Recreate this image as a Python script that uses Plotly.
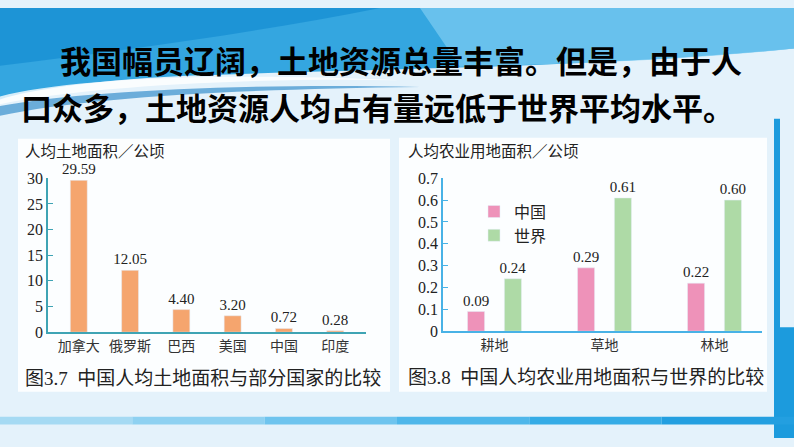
import plotly.graph_objects as go

# ---------------- data ----------------
countries = ["加拿大", "俄罗斯", "巴西", "美国", "中国", "印度"]
land_per_capita = [29.59, 12.05, 4.40, 3.20, 0.72, 0.28]
left_ticks = [0, 5, 10, 15, 20, 25, 30]
left_ticktext = ["0", "5", "10", "15", "20", "25", "30"]

land_types = ["耕地", "草地", "林地"]
china_agri = [0.09, 0.29, 0.22]
world_agri = [0.24, 0.61, 0.60]
right_ticks = [0, 0.1, 0.2, 0.3, 0.4, 0.5, 0.6, 0.7]
right_ticktext = ["0", "0.1", "0.2", "0.3", "0.4", "0.5", "0.6", "0.7"]

title_line1 = "我国幅员辽阔，土地资源总量丰富。但是，由于人"
title_line2 = "口众多，土地资源人均占有量远低于世界平均水平。"
left_ytitle = "人均土地面积／公顷"
right_ytitle = "人均农业用地面积／公顷"
left_caption = "图3.7  中国人均土地面积与部分国家的比较"
right_caption = "图3.8  中国人均农业用地面积与世界的比较"

# ---------------- helpers ----------------
W, H = 794, 447
def px(x):
    return x / W
def py(y):
    return 1 - y / H

SERIF = "Liberation Serif, Noto Sans CJK SC"
CJK = "Noto Sans CJK SC"
ORANGE = "#F5A56E"
PINK = "#EE92B9"
GREEN = "#AEDAA6"
LEFT_AX = "#3FA4B4"
RIGHT_AX = "#48B2E6"
LABEL_FONT = dict(family="Liberation Serif", size=15, color="#222")

fig = go.Figure()

fig.add_trace(go.Bar(
    x=countries, y=land_per_capita, marker_color=ORANGE, width=0.33,
    text=[f"{v:.2f}" for v in land_per_capita], textposition="outside",
    constraintext="none", textfont=LABEL_FONT, cliponaxis=False,
    showlegend=False, xaxis="x", yaxis="y"))

fig.add_trace(go.Bar(
    x=land_types, y=china_agri, name="中国", marker_color=PINK,
    width=0.155, offset=-0.245,
    text=[f"{v:.2f}" for v in china_agri], textposition="outside",
    constraintext="none", textfont=LABEL_FONT, cliponaxis=False,
    xaxis="x2", yaxis="y2"))
fig.add_trace(go.Bar(
    x=land_types, y=world_agri, name="世界", marker_color=GREEN,
    width=0.155, offset=0.09,
    text=[f"{v:.2f}" for v in world_agri], textposition="outside",
    constraintext="none", textfont=LABEL_FONT, cliponaxis=False,
    xaxis="x2", yaxis="y2"))

shapes = []
# top banner
shapes.append(dict(type="path", xref="paper", yref="paper", layer="below",
    path=f"M {px(0)},{py(0)} L {px(794)},{py(0)} L {px(794)},{py(42)} "
         f"C {px(600)},{py(62)} {px(350)},{py(64)} {px(200)},{py(70)} "
         f"C {px(100)},{py(74)} {px(30)},{py(85)} {px(0)},{py(95)} Z",
    fillcolor="#34A6E0", line=dict(width=0)))
shapes.append(dict(type="path", xref="paper", yref="paper", layer="below",
    path=f"M {px(420)},{py(0)} L {px(794)},{py(0)} L {px(794)},{py(42)} "
         f"C {px(680)},{py(55)} {px(540)},{py(59)} {px(460)},{py(61)} Z",
    fillcolor="#7FCDF2", line=dict(width=0), opacity=0.7))
shapes.append(dict(type="path", xref="paper", yref="paper", layer="below",
    path=f"M {px(0)},{py(0)} L {px(380)},{py(0)} "
         f"C {px(260)},{py(25)} {px(120)},{py(45)} {px(0)},{py(60)} Z",
    fillcolor="#1A90D3", line=dict(width=0), opacity=0.85))
# white wave streak
shapes.append(dict(type="path", xref="paper", yref="paper", layer="below",
    path=f"M {px(0)},{py(92)} C {px(60)},{py(75)} {px(200)},{py(66)} {px(400)},{py(75)} "
         f"C {px(250)},{py(72)} {px(80)},{py(82)} {px(0)},{py(100)} Z",
    fillcolor="#FFFFFF", line=dict(width=0), opacity=0.8))
shapes.append(dict(type="path", xref="paper", yref="paper", layer="below",
    path=f"M {px(0)},{py(102)} C {px(80)},{py(86)} {px(250)},{py(78)} {px(420)},{py(82)} "
         f"C {px(250)},{py(84)} {px(90)},{py(92)} {px(0)},{py(112)} Z",
    fillcolor="#1B7FC4", line=dict(width=0), opacity=0.6))
# white panels
shapes.append(dict(type="rect", xref="paper", yref="paper", layer="below",
    x0=px(18), x1=px(390), y0=py(399), y1=py(136),
    fillcolor="#FCFEFF", line=dict(width=0)))
shapes.append(dict(type="rect", xref="paper", yref="paper", layer="below",
    x0=px(399), x1=px(767), y0=py(399), y1=py(135),
    fillcolor="#FCFEFF", line=dict(width=0)))
# right vertical bar
shapes.append(dict(type="rect", xref="paper", yref="paper", layer="below",
    x0=px(774), x1=px(780), y0=py(420), y1=py(115),
    fillcolor="#1C9BDD", line=dict(width=0)))
shapes.append(dict(type="rect", xref="paper", yref="paper", layer="below",
    x0=px(774), x1=px(794), y0=py(447), y1=py(332),
    fillcolor="#1C9BDD", line=dict(width=0)))
# bottom bar (stepped gradient light -> deep blue)
bar_cols = ["#A5DAF3", "#8ED1F1", "#6EC4EE", "#4FB7EA", "#35ACE6", "#239FE0"]
seg = 794 / len(bar_cols)
for i, c in enumerate(bar_cols):
    shapes.append(dict(type="rect", xref="paper", yref="paper", layer="below",
        x0=px(i * seg), x1=px((i + 1) * seg), y0=py(433), y1=py(425),
        fillcolor=c, line=dict(width=0)))

annotations = [
    dict(text=title_line1, x=px(401), y=py(54), xref="paper", yref="paper",
         showarrow=False, xanchor="center", yanchor="middle",
         font=dict(family=CJK, size=31, color="#000", weight="bold")),
    dict(text=title_line2, x=px(377), y=py(102), xref="paper", yref="paper",
         showarrow=False, xanchor="center", yanchor="middle",
         font=dict(family=CJK, size=31, color="#000", weight="bold")),
    dict(text=left_ytitle, x=px(23), y=py(148), xref="paper", yref="paper",
         showarrow=False, xanchor="left", yanchor="middle",
         font=dict(family=CJK, size=15.5, color="#222")),
    dict(text=right_ytitle, x=px(406), y=py(148), xref="paper", yref="paper",
         showarrow=False, xanchor="left", yanchor="middle",
         font=dict(family=CJK, size=15.5, color="#222")),
    dict(text=left_caption, x=px(23), y=py(385), xref="paper", yref="paper",
         showarrow=False, xanchor="left", yanchor="middle",
         font=dict(family=SERIF, size=19, color="#222")),
    dict(text=right_caption, x=px(406), y=py(384), xref="paper", yref="paper",
         showarrow=False, xanchor="left", yanchor="middle",
         font=dict(family=SERIF, size=19, color="#222")),
]

fig.update_layout(
    width=W, height=H, margin=dict(l=0, r=0, t=0, b=0),
    paper_bgcolor="#E4F2FB", plot_bgcolor="rgba(0,0,0,0)",
    barmode="group", shapes=shapes, annotations=annotations,
    xaxis=dict(domain=[px(48), px(366)], range=[-0.6, 5.6], anchor="y",
               showline=True, linecolor=LEFT_AX, linewidth=1.5, ticks="",
               tickfont=dict(family=CJK, size=14, color="#333"), showgrid=False),
    yaxis=dict(domain=[py(337), py(177)], range=[0, 30], anchor="x",
               showline=True, linecolor=LEFT_AX, linewidth=1.5, ticks="inside",
               ticklen=5, tickcolor=LEFT_AX, tickvals=left_ticks, ticktext=left_ticktext,
               tickfont=dict(family=SERIF, size=16, color="#222"), showgrid=False,
               zeroline=False),
    xaxis2=dict(domain=[px(443), px(762)], range=[-0.468, 2.432], anchor="y2",
                showline=True, linecolor=RIGHT_AX, linewidth=1.5, ticks="",
                tickfont=dict(family=CJK, size=14, color="#333"), showgrid=False),
    yaxis2=dict(domain=[py(336), py(177)], range=[0, 0.7], anchor="x2",
                showline=True, linecolor=RIGHT_AX, linewidth=1.5, ticks="inside",
                ticklen=5, tickcolor=RIGHT_AX, tickvals=right_ticks, ticktext=right_ticktext,
                tickfont=dict(family=SERIF, size=16, color="#222"), showgrid=False,
                zeroline=False),
    legend=dict(x=px(474), y=py(194), xanchor="left", yanchor="top",
                bgcolor="rgba(0,0,0,0)", font=dict(family=CJK, size=16, color="#222"),
                tracegroupgap=4, itemwidth=30),
)

fig.write_html("out.html", config={"displayModeBar": False},
               post_script="document.body.style.margin='0';document.body.style.overflow='hidden';")
